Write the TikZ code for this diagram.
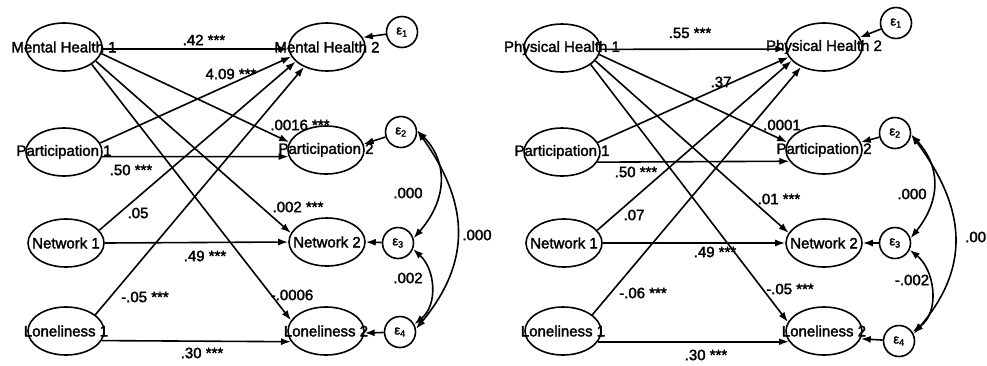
\documentclass[tikz,border=0pt]{standalone}
\usepackage{fontspec}
\setmainfont{Liberation Sans}[BoldFont={Liberation Sans},BoldFeatures={FakeBold=2}]
\usetikzlibrary{arrows.meta,shapes.geometric}
\begin{document}
\begin{tikzpicture}[x=1pt,y=-1pt,
  lat/.style={ellipse,draw,line width=1.6pt,minimum width=76pt,minimum height=48pt,inner sep=0pt},
  err/.style={circle,draw,line width=1.6pt,minimum size=31pt,inner sep=0pt,font=\fontsize{13}{13}\selectfont\bfseries},
  pth/.style={line width=1.6pt,-{Latex[length=10pt,width=7pt]}},
  cov/.style={line width=1.6pt,{Latex[length=10pt,width=7pt]}-{Latex[length=10pt,width=7pt]}},
  coef/.style={font=\fontsize{15}{15}\selectfont\bfseries,inner sep=0pt},
  lab/.style={font=\fontsize{15}{15}\selectfont\bfseries,inner sep=0pt}
]
\useasboundingbox (0,0) rectangle (987,365);
% ---------------- left panel ----------------
\node[lat,label={[lab]center:Mental Health 1}] (mh1) at (64,47) {};
\node[lat,label={[lab]center:Participation 1}] (pa1) at (64,152) {};
\node[lat,label={[lab]center:Network 1}] (nw1) at (66,243) {};
\node[lat,label={[lab]center:Loneliness 1}] (lo1) at (66,331) {};
\node[lat,label={[lab]center:Mental Health 2}] (mh2) at (327,47) {};
\node[lat,label={[lab]center:Participation 2}] (pa2) at (326,150) {};
\node[lat,label={[lab]center:Network 2}] (nw2) at (327,242) {};
\node[lat,label={[lab]center:Loneliness 2}] (lo2) at (326,331) {};
\node[err] (e1) at (402,32) {ε\textsubscript{1}};
\node[err] (e2) at (401,132) {ε\textsubscript{2}};
\node[err] (e3) at (398,243) {ε\textsubscript{3}};
\node[err] (e4) at (400,332) {ε\textsubscript{4}};

\draw[pth] (mh1.-3) -- (mh2.-177);
\draw[pth] (mh1.-10) -- (pa2.168);
\draw[pth] (mh1.-24) -- (nw2.166);
\draw[pth] (mh1.-32) -- (lo2.163);
\draw[pth] (pa1.14) -- (mh2.-165);
\draw[pth] (pa1.-7) -- (pa2.-170);
\draw[pth] (nw1.21) -- (mh2.-155);
\draw[pth] (nw1.0) -- (nw2.180);
\draw[pth] (lo1.29) -- (mh2.-139);
\draw[pth] (lo1.-15) -- (lo2.-163);
\draw[pth] (e1) -- (mh2.15);
\draw[pth] (e2) -- (pa2.9);
\draw[pth] (e3) -- (nw2.0);
\draw[pth] (e4) -- (lo2.-3);
\draw[cov] (e2.5) .. controls +(30,30) and +(35,-40) .. (e3.17);
\draw[cov] (e2.5) .. controls +(50,70) and +(58,-70) .. (e4.11);
\draw[cov] (e3.-22) .. controls +(22,20) and +(24,-20) .. (e4.28);

\node[coef] (c1) at (204,40) {.42 ***};
\node[coef] (c2) at (231,74) {4.09 ***};
\node[coef] (c3) at (300,125) {.0016 ***};
\node[coef] (c4) at (131,170) {.50 ***};
\node[coef] (c5) at (138,213) {.05};
\node[coef] (c6) at (205,256) {.49 ***};
\node[coef] (c7) at (145,297) {-.05 ***};
\node[coef] (c8) at (202,353) {.30 ***};
\node[coef] (c9) at (298,207) {.002 ***};
\node[coef] (c10) at (292,295) {-.0006};
\node[coef] (c11) at (408,193) {.000};
\node[coef] (c12) at (477,235) {.000};
\node[coef] (c13) at (408,278) {.002};

% ---------------- right panel ----------------
\node[lat,label={[lab]center:Physical Health 1}] (ph1) at (562,48) {};
\node[lat,label={[lab]center:Participation 1}] (pb1) at (562,152) {};
\node[lat,label={[lab]center:Network 1}] (nx1) at (564,243) {};
\node[lat,label={[lab]center:Loneliness 1}] (lp1) at (563,331) {};
\node[lat,label={[lab]center:Physical Health 2}] (ph2) at (824,47) {};
\node[lat,label={[lab]center:Participation 2}] (pb2) at (824,150) {};
\node[lat,label={[lab]center:Network 2}] (nx2) at (824,243) {};
\node[lat,label={[lab]center:Loneliness 2}] (lp2) at (824,331) {};
\node[err] (f1) at (896,23) {ε\textsubscript{1}};
\node[err] (f2) at (895,133) {ε\textsubscript{2}};
\node[err] (f3) at (895,243) {ε\textsubscript{3}};
\node[err] (f4) at (899,341) {ε\textsubscript{4}};

\draw[pth] (ph1.-2) -- (ph2.-177);
\draw[pth] (ph1.-10) -- (pb2.168);
\draw[pth] (ph1.-21) -- (nx2.164);
\draw[pth] (ph1.-30) -- (lp2.166);
\draw[pth] (pb1.15) -- (ph2.-164);
\draw[pth] (pb1.-16) -- (pb2.-162);
\draw[pth] (nx1.21) -- (ph2.-157);
\draw[pth] (nx1.0) -- (nx2.180);
\draw[pth] (lp1.29) -- (ph2.-139);
\draw[pth] (lp1.-17) -- (lp2.-163);
\draw[pth] (f1) -- (ph2.15);
\draw[pth] (f2) -- (pb2.12);
\draw[pth] (f3) -- (nx2.0);
\draw[pth] (f4) -- (lp2.-12);
\draw[cov] (f2.-6) .. controls +(28,30) and +(32,-40) .. (f3.17);
\draw[cov] (f2.-6) .. controls +(52,70) and +(60,-70) .. (f4.26);
\draw[cov] (f3.-25) .. controls +(25,20) and +(28,-20) .. (f4.34);

\node[coef] (d1) at (690,33) {.55 ***};
\node[coef] (d2) at (721,82) {.37};
\node[coef] (d3) at (782,125) {.0001};
\node[coef] (d4) at (636,172) {.50 ***};
\node[coef] (d5) at (634,215) {.07};
\node[coef] (d6) at (715,252) {.49 ***};
\node[coef] (d7) at (643,293) {-.06 ***};
\node[coef] (d8) at (706,355) {.30 ***};
\node[coef] (d9) at (779,199) {.01 ***};
\node[coef] (d10) at (790,289) {-.05 ***};
\node[coef] (d11) at (912,194) {.000};
\node[coef] (d12) at (912,280) {-.002};
\node[coef,anchor=west] (d13) at (965,237) {.00};
\end{tikzpicture}
\end{document}
